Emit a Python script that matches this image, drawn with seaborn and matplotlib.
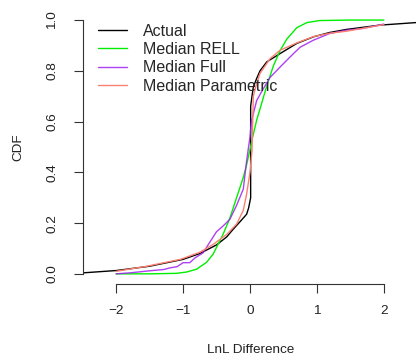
import pandas as pd
import matplotlib
matplotlib.use("Agg")
import matplotlib.pyplot as plt
import seaborn as sns

# values
actual_x = [-2.49, -2.0, -1.5, -1.0, -0.75, -0.5, -0.35, -0.25, -0.15, -0.05, -0.02,
            0.01, 0.01, 0.03, 0.05, 0.1, 0.15, 0.25, 0.45, 0.7, 0.95, 1.19, 1.44, 1.94, 2.48]
actual_y = [0.004, 0.013, 0.03, 0.057, 0.08, 0.114, 0.145, 0.176, 0.205, 0.235, 0.26,
            0.30, 0.66, 0.70, 0.736, 0.77, 0.80, 0.835, 0.868, 0.908, 0.934, 0.951, 0.963, 0.980, 0.99]

rell_x = [-2.0, -1.5, -1.1, -0.95, -0.8, -0.65, -0.55, -0.4, -0.3, -0.2, -0.1, -0.05, 0.0,
          0.05, 0.1, 0.15, 0.25, 0.35, 0.45, 0.55, 0.7, 0.85, 1.04, 1.5, 2.0]
rell_y = [0.0, 0.0, 0.002, 0.007, 0.018, 0.045, 0.078, 0.157, 0.22, 0.30, 0.38, 0.43, 0.49,
          0.55, 0.606, 0.65, 0.74, 0.82, 0.88, 0.925, 0.97, 0.99, 0.998, 1.0, 1.0]

full_x = [-2.0, -1.79, -1.5, -1.29, -1.19, -1.09, -1.0, -0.9, -0.82, -0.7, -0.6, -0.5, -0.4,
          -0.3, -0.2, -0.1, -0.05, 0.0, 0.02, 0.1, 0.2, 0.3, 0.45, 0.65, 0.75, 0.95, 1.19,
          1.44, 1.69, 2.0]
full_y = [0.0, 0.004, 0.012, 0.017, 0.024, 0.028, 0.044, 0.044, 0.063, 0.083, 0.125, 0.166,
          0.189, 0.215, 0.27, 0.334, 0.446, 0.54, 0.60, 0.683, 0.73, 0.774, 0.815, 0.868,
          0.893, 0.921, 0.947, 0.96, 0.967, 0.984]

param_x = [-2.0, -1.54, -1.04, -0.75, -0.55, -0.35, -0.2, -0.1, -0.05, 0.0, 0.03, 0.05,
           0.1, 0.15, 0.3, 0.45, 0.7, 0.95, 1.19, 1.44, 1.7, 2.0]
param_y = [0.01, 0.03, 0.057, 0.085, 0.116, 0.155, 0.196, 0.25, 0.315, 0.40, 0.485, 0.70,
           0.75, 0.79, 0.848, 0.881, 0.91, 0.935, 0.948, 0.956, 0.968, 0.982]

x_ticks = [-2, -1, 0, 1, 2]
y_ticks = [0.0, 0.2, 0.4, 0.6, 0.8, 1.0]
series_names = ["Actual", "Median RELL", "Median Full", "Median Parametric"]
colors = ["#000000", "#00ee00", "#a020f0", "#fa8072"]

df = pd.concat([
    pd.DataFrame({"x": actual_x, "y": actual_y, "series": "Actual"}),
    pd.DataFrame({"x": rell_x, "y": rell_y, "series": "Median RELL"}),
    pd.DataFrame({"x": full_x, "y": full_y, "series": "Median Full"}),
    pd.DataFrame({"x": param_x, "y": param_y, "series": "Median Parametric"}),
])

sns.set_theme(style="white")
plt.rcParams["font.family"] = ["Liberation Sans", "DejaVu Sans"]

fig = plt.figure(figsize=(4.16, 3.6), dpi=100)
W, H = 416, 360
left, right, top, bottom = 83.3, 416, 9.9, 284.0
ax = fig.add_axes([left / W, 1 - bottom / H, (right - left) / W, (bottom - top) / H])

widths = {"Actual": 1.3, "Median RELL": 1.05, "Median Full": 1.05, "Median Parametric": 1.0}
alphas = {"Actual": 1.0, "Median RELL": 1.0, "Median Full": 0.85, "Median Parametric": 1.0}
for name, col in zip(series_names, colors):
    sub = df[df["series"] == name]
    sns.lineplot(data=sub, x="x", y="y", color=col, lw=widths[name], alpha=alphas[name],
                 sort=False, estimator=None, ax=ax, label=name, legend=False)

ax.set_xlim(-2.49, 2.48)
ax.set_ylim(-0.04, 1.04)
ax.set_xticks(x_ticks)
ax.set_xticklabels(["\u22122", "\u22121", "0", "1", "2"])
ax.set_yticks(y_ticks)
ax.set_yticklabels([f"{v:.1f}" for v in y_ticks])

for s in ["top", "right"]:
    ax.spines[s].set_visible(False)
ax.spines["left"].set_bounds(0, 1)
ax.spines["bottom"].set_bounds(-2, 2)
for s in ["left", "bottom"]:
    ax.spines[s].set_linewidth(0.8)
    ax.spines[s].set_color("#333333")

ax.tick_params(axis="both", direction="out", length=6.5, width=0.8, color="#333333",
               labelsize=9.7, labelcolor="#222222")
ax.tick_params(axis="x", pad=8.3, bottom=True)
ax.tick_params(axis="y", pad=11.5, left=True)
plt.setp(ax.get_yticklabels(), rotation=90, va="center")

ax.set_xlabel("LnL Difference", fontsize=9.7, color="#222222", va="center")
ax.xaxis.set_label_coords((250.5 - left) / (right - left), -(350 - bottom) / (bottom - top))
ax.set_ylabel("CDF", fontsize=9.7, color="#222222", va="center")
ax.yaxis.set_label_coords(-(left - 18) / (right - left), 0.5)

handles, labels = ax.get_legend_handles_labels()
for h in handles:
    h.set_linewidth(1.0)
ax.legend(handles, labels, loc="upper left", frameon=False, fontsize=11.5,
          handlelength=1.81, handletextpad=0.96, labelspacing=0.21,
          borderpad=0, borderaxespad=0,
          bbox_to_anchor=(98.3 / W, 1 - 23.5 / H), bbox_transform=fig.transFigure)

ax.grid(False)
fig.savefig("out.png", dpi=100)
